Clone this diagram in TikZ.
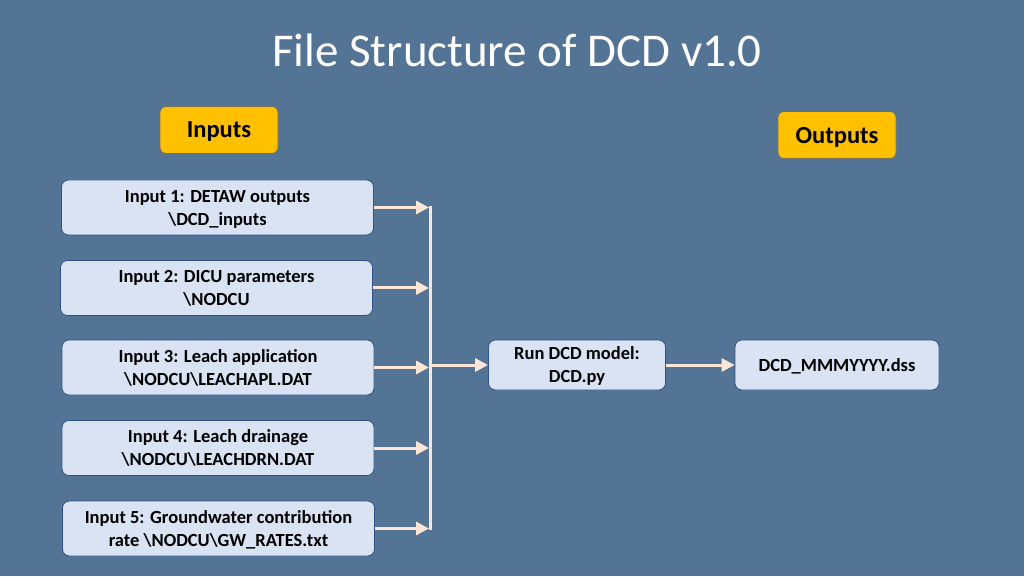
\documentclass[tikz,border=0pt]{standalone}
\usepackage{fontspec}
\setmainfont{Carlito}
\usetikzlibrary{arrows.meta}
\definecolor{bg}{RGB}{84,116,150}
\definecolor{boxfill}{RGB}{218,227,243}
\definecolor{boxline}{RGB}{47,82,143}
\definecolor{gold}{RGB}{255,192,0}
\definecolor{goldline}{RGB}{120,110,90}
\definecolor{arr}{RGB}{251,229,214}
\begin{document}
\begin{tikzpicture}[x=1pt,y=1pt,
  inbox/.style={draw=boxline, line width=0.8pt, fill=boxfill, rounded corners=7pt, minimum width=312pt, minimum height=55pt, align=center, font=\fontsize{18.5}{23}\selectfont\bfseries, inner sep=2pt, text depth=0pt},
  procbox/.style={inbox, minimum width=177pt, minimum height=50pt},
  outbox/.style={inbox, minimum width=204pt, minimum height=50pt},
  tagbox/.style={draw=goldline, line width=0.8pt, fill=gold, rounded corners=6pt, minimum width=118pt, minimum height=47pt, font=\fontsize{24.5}{28}\selectfont\bfseries, text depth=0pt},
  conn/.style={draw=arr, line width=3pt},
  arrow/.style={conn, -{Triangle[length=13pt,width=13pt]}}]
\fill[bg] (0,0) rectangle (1024,576);
\useasboundingbox (0,0) rectangle (1024,576);
\node[text=white, font=\fontsize{47}{54}\selectfont] (title) at (517,526) {File Structure of DCD v1.0};
\node[tagbox] (inputs) at (219,446) {Inputs};
\node[tagbox] (outputs) at (837,441) {Outputs};
\node[inbox] (in1) at (217.5,368.5) {Input 1: DETAW outputs\\\textbackslash DCD\_inputs};
\node[inbox] (in2) at (216.5,288) {Input 2: DICU parameters\\\textbackslash NODCU};
\node[inbox] (in3) at (218,208.5) {Input 3: Leach application\\\textbackslash NODCU\textbackslash LEACHAPL.DAT};
\node[inbox] (in4) at (218,128) {Input 4: Leach drainage\\\textbackslash NODCU\textbackslash LEACHDRN.DAT};
\node[inbox] (in5) at (218.5,47.5) {Input 5: Groundwater contribution\\rate \textbackslash NODCU\textbackslash GW\_RATES.txt};
\node[procbox] (run) at (577,211) {Run DCD model:\\DCD.py};
\node[outbox] (out) at (837,211) {DCD\_MMMYYYY.dss};
\coordinate (bustop) at (430,369.5);
\coordinate (busbot) at (430,46);
\draw[conn] (bustop) -- (busbot);
\foreach \n in {in1,in2,in3,in4,in5}
  \draw[arrow] (\n.east) -- ([xshift=-1pt]\n.east -| bustop);
\draw[arrow] (run.west -| bustop) -- (run.west);
\draw[arrow] (run.east) -- (out.west);
\end{tikzpicture}
\end{document}
